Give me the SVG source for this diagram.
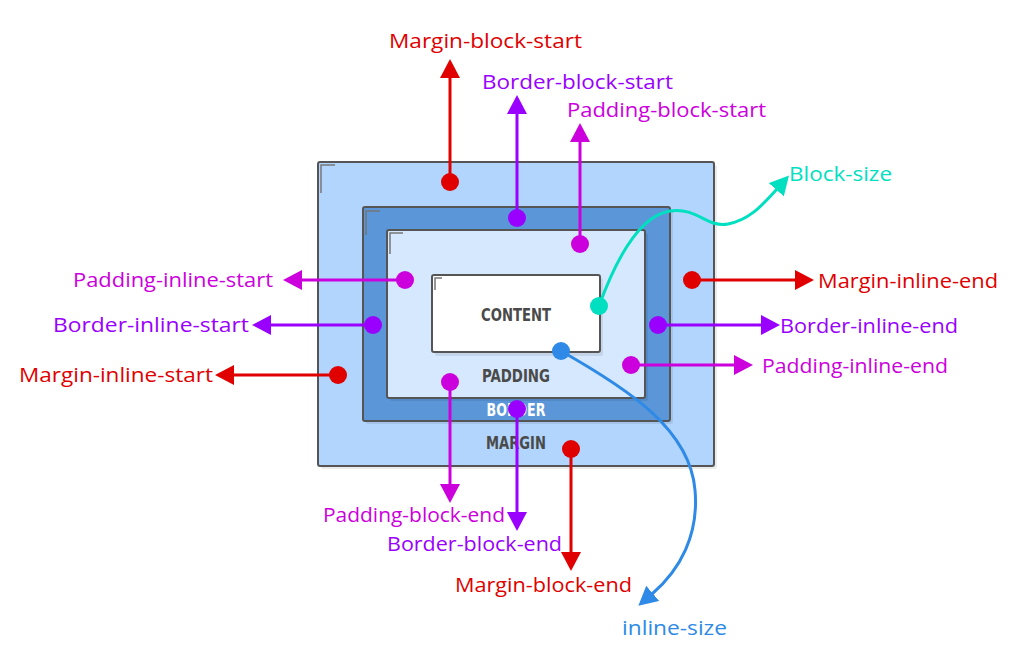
<svg xmlns="http://www.w3.org/2000/svg" width="1024" height="661" viewBox="0 0 1024 661">
<style>
.box{stroke:#555;stroke-width:2}
.shadow{fill:#000;opacity:0.08}
.corner{fill:none;stroke:#777;stroke-width:1.5}
.blabel{font-family:"DejaVu Sans Condensed","DejaVu Sans",sans-serif;font-weight:bold;font-size:17.5px;text-anchor:middle}
.lbl{font-family:"Open Sans","Liberation Sans",sans-serif;font-size:20px}
.ln{fill:none;stroke-width:3}
.red{stroke:#e00000;fill:#e00000}
.pur{stroke:#9900ff;fill:#9900ff}
.mag{stroke:#cc00dd;fill:#cc00dd}
.tea{stroke:#00e0c0;fill:#00e0c0}
.blu{stroke:#2e8ae6;fill:#2e8ae6}
</style>
<defs>
<marker id="aR" viewBox="0 0 20 20" refX="1" refY="10" markerWidth="20" markerHeight="20" markerUnits="userSpaceOnUse" orient="auto"><path d="M0,0 L19,10 L0,20 z" fill="#e00000"/></marker>
<marker id="aP" viewBox="0 0 20 20" refX="1" refY="10" markerWidth="20" markerHeight="20" markerUnits="userSpaceOnUse" orient="auto"><path d="M0,0 L19,10 L0,20 z" fill="#9900ff"/></marker>
<marker id="aM" viewBox="0 0 20 20" refX="1" refY="10" markerWidth="20" markerHeight="20" markerUnits="userSpaceOnUse" orient="auto"><path d="M0,0 L19,10 L0,20 z" fill="#cc00dd"/></marker>
<marker id="aT" viewBox="0 0 20 20" refX="1" refY="10" markerWidth="20" markerHeight="20" markerUnits="userSpaceOnUse" orient="auto"><path d="M0,0 L19,10 L0,20 z" fill="#00e0c0"/></marker>
<marker id="aB" viewBox="0 0 20 20" refX="1" refY="10" markerWidth="20" markerHeight="20" markerUnits="userSpaceOnUse" orient="auto"><path d="M0,0 L19,10 L0,20 z" fill="#2e8ae6"/></marker>
</defs>
<rect width="1024" height="661" fill="#fff"/>
<g id="margin-box">
<rect class="shadow" x="321" y="165" width="396" height="304" rx="2"/>
<rect class="box" x="318" y="162" width="396" height="304" rx="2" fill="#b1d5fc"/>
<path class="corner" d="M335,165 L321,165 L321,193"/>
<text class="blabel" x="516" y="449" fill="#4a4a4a" textLength="60" lengthAdjust="spacingAndGlyphs">MARGIN</text>
</g>
<g id="border-box">
<rect class="shadow" x="366" y="210" width="307" height="214" rx="2"/>
<rect class="box" x="363" y="207" width="307" height="214" rx="2" fill="#5a96d8"/>
<path class="corner" d="M380,211 L366,211 L366,235"/>
<text class="blabel" x="516" y="416" fill="#ffffff" textLength="59" lengthAdjust="spacingAndGlyphs">BORDER</text>
</g>
<g id="padding-box">
<rect class="shadow" x="390" y="233" width="258" height="168" rx="2"/>
<rect class="box" x="387" y="230" width="258" height="168" rx="2" fill="#d5e8fd"/>
<path class="corner" d="M403,233 L390,233 L390,254"/>
<text class="blabel" x="516" y="382" fill="#4a4a4a" textLength="68" lengthAdjust="spacingAndGlyphs">PADDING</text>
</g>
<g id="content-box">
<rect class="shadow" x="435" y="278" width="168" height="78" rx="2"/>
<rect class="box" x="432" y="275" width="168" height="77" rx="2" fill="#ffffff"/>
<path class="corner" d="M442,278 L435,278 L435,290"/>
<text class="blabel" x="516" y="321" fill="#4a4a4a" textLength="70" lengthAdjust="spacingAndGlyphs">CONTENT</text>
</g>
<g id="connectors">
<path class="ln red" fill="none" d="M450,182 L450,77" marker-end="url(#aR)"/>
<path class="ln pur" fill="none" d="M517,218 L517,113" marker-end="url(#aP)"/>
<path class="ln mag" fill="none" d="M580,244 L580,141" marker-end="url(#aM)"/>
<path class="ln mag" fill="none" d="M405,280 L301,280" marker-end="url(#aM)"/>
<path class="ln pur" fill="none" d="M373,325 L270,325" marker-end="url(#aP)"/>
<path class="ln red" fill="none" d="M338,375 L233,375" marker-end="url(#aR)"/>
<path class="ln red" fill="none" d="M692,280 L796,280" marker-end="url(#aR)"/>
<path class="ln pur" fill="none" d="M658,325 L762,325" marker-end="url(#aP)"/>
<path class="ln mag" fill="none" d="M631,365 L735,365" marker-end="url(#aM)"/>
<path class="ln mag" fill="none" d="M450,382 L450,485" marker-end="url(#aM)"/>
<path class="ln pur" fill="none" d="M517,409 L517,513" marker-end="url(#aP)"/>
<path class="ln red" fill="none" d="M571,449 L571,553" marker-end="url(#aR)"/>
<path class="ln tea" style="fill:none" d="M599,306 C615,262 638,216 670,211 C698,207 706,228 728,224 C748,220 760,208 777,189" marker-end="url(#aT)"/>
<path class="ln blu" style="fill:none" d="M561,351 C630,390 690,430 695,490 C699,535 680,570 652,594" marker-end="url(#aB)"/>
<circle cx="450" cy="182" r="9" fill="#e00000"/>
<circle cx="517" cy="218" r="9" fill="#9900ff"/>
<circle cx="580" cy="244" r="9" fill="#cc00dd"/>
<circle cx="405" cy="280" r="9" fill="#cc00dd"/>
<circle cx="373" cy="325" r="9" fill="#9900ff"/>
<circle cx="338" cy="375" r="9" fill="#e00000"/>
<circle cx="692" cy="280" r="9" fill="#e00000"/>
<circle cx="658" cy="325" r="9" fill="#9900ff"/>
<circle cx="631" cy="365" r="9" fill="#cc00dd"/>
<circle cx="450" cy="382" r="9" fill="#cc00dd"/>
<circle cx="517" cy="409" r="9" fill="#9900ff"/>
<circle cx="571" cy="449" r="9" fill="#e00000"/>
<circle cx="599" cy="306" r="9" fill="#00e0c0"/>
<circle cx="561" cy="351" r="9" fill="#2e8ae6"/>
</g>
<g id="labels">
<text class="lbl" x="389" y="48" fill="#e00000" textLength="193" lengthAdjust="spacingAndGlyphs">Margin-block-start</text>
<text class="lbl" x="482" y="89" fill="#9900ff" textLength="191" lengthAdjust="spacingAndGlyphs">Border-block-start</text>
<text class="lbl" x="567" y="117" fill="#cc00dd" textLength="199" lengthAdjust="spacingAndGlyphs">Padding-block-start</text>
<text class="lbl" x="789" y="181" fill="#00e0c0" textLength="103" lengthAdjust="spacingAndGlyphs">Block-size</text>
<text class="lbl" x="73" y="287" fill="#cc00dd" textLength="200" lengthAdjust="spacingAndGlyphs">Padding-inline-start</text>
<text class="lbl" x="53" y="332" fill="#9900ff" textLength="196" lengthAdjust="spacingAndGlyphs">Border-inline-start</text>
<text class="lbl" x="19" y="382" fill="#e00000" textLength="194" lengthAdjust="spacingAndGlyphs">Margin-inline-start</text>
<text class="lbl" x="818" y="288" fill="#e00000" textLength="180" lengthAdjust="spacingAndGlyphs">Margin-inline-end</text>
<text class="lbl" x="780" y="333" fill="#9900ff" textLength="178" lengthAdjust="spacingAndGlyphs">Border-inline-end</text>
<text class="lbl" x="762" y="373" fill="#cc00dd" textLength="186" lengthAdjust="spacingAndGlyphs">Padding-inline-end</text>
<text class="lbl" x="323" y="522" fill="#cc00dd" textLength="182" lengthAdjust="spacingAndGlyphs">Padding-block-end</text>
<text class="lbl" x="387" y="551" fill="#9900ff" textLength="175" lengthAdjust="spacingAndGlyphs">Border-block-end</text>
<text class="lbl" x="455" y="592" fill="#e00000" textLength="177" lengthAdjust="spacingAndGlyphs">Margin-block-end</text>
<text class="lbl" x="622" y="635" fill="#2e8ae6" textLength="105" lengthAdjust="spacingAndGlyphs">inline-size</text>
</g>
</svg>
